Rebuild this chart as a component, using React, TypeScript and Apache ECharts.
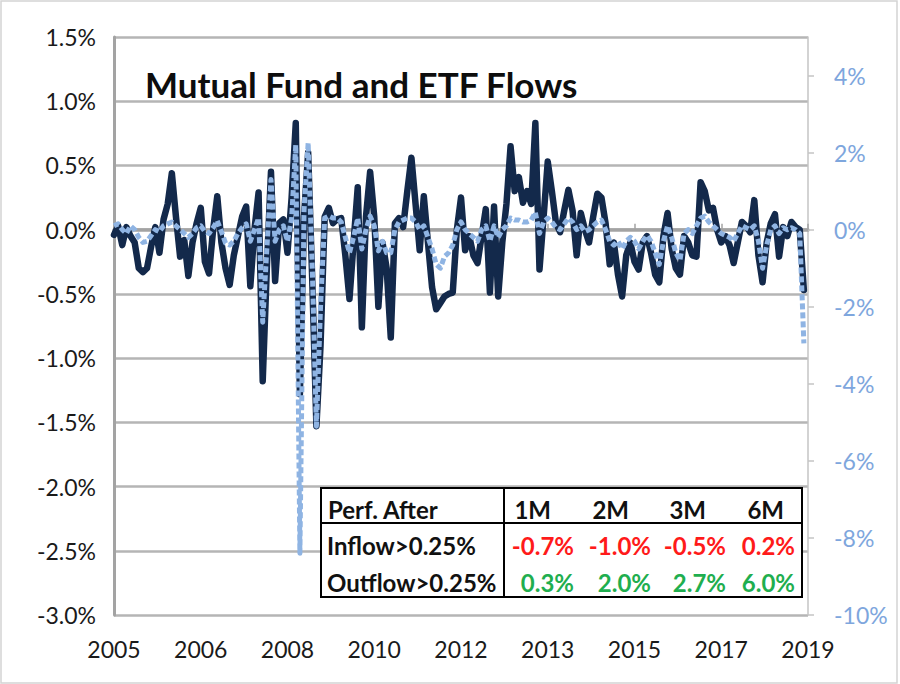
import React, { useEffect, useRef } from 'react';
import * as echarts from 'echarts';

// Monthly, Jan 2005 .. Dec 2018 (left axis, %)
const mfFlows = [
  -0.04, 0.03, -0.12, 0.02, -0.05, -0.1, -0.3, -0.33, -0.3, -0.13, 0.02, -0.18,
  0.08, 0.2, 0.44, 0.1, -0.21, -0.08, -0.36, -0.1, 0.05, 0.17, -0.25, -0.34,
  0.0, 0.26, -0.1, -0.3, -0.43, -0.2, -0.05, 0.1, 0.18, -0.44, 0.0, 0.29,
  -1.18, -0.3, 0.45, -0.4, 0.05, 0.08, -0.18, 0.25, 0.83, -1.28, 0.1, 0.6,
  -0.4, -1.53, -0.9, 0.1, 0.17, 0.05, 0.08, 0.09, -0.2, -0.54, -0.1, 0.33,
  -0.76, 0.1, 0.45, 0.1, -0.6, -0.1, -0.3, -0.84, 0.05, 0.09, 0.02, 0.3,
  0.56, 0.2, -0.16, 0.26, -0.1, -0.45, -0.62, -0.57, -0.52, -0.5, -0.49, 0.0,
  0.25, -0.16, -0.05, -0.2, -0.26, -0.05, 0.16, -0.49, 0.18, -0.52, -0.1, 0.2,
  0.65, 0.3, 0.41, 0.21, 0.3, 0.2, 0.83, -0.31, 0.1, 0.53, 0.3, 0.05,
  -0.02, 0.15, 0.31, 0.15, -0.2, 0.13, 0.0, -0.1, 0.1, 0.28, 0.25, 0.05,
  -0.27, -0.1, -0.35, -0.52, -0.2, -0.1, -0.25, -0.31, -0.1, -0.05, -0.18, -0.35,
  -0.41, -0.05, 0.13, -0.15, -0.3, -0.35, -0.05, -0.1, -0.2, -0.21, 0.37, 0.3,
  0.15, 0.17, 0.0, -0.1, -0.05, -0.12, -0.26, -0.1, 0.06, 0.03, -0.02, 0.23,
  -0.2, -0.41, -0.1, 0.05, 0.12, -0.21, 0.02, -0.05, 0.06, 0.02, 0.0, -0.47,
];

// Monthly, Jan 2005 .. Dec 2018 (right axis, %)
const etfFlows = [
  0.1, 0.15, 0.0, -0.1, 0.1, 0.0, -0.2, -0.33, -0.3, -0.15, 0.0, -0.05,
  0.1, 0.15, 0.2, 0.1, 0.0, -0.1, -0.2, -0.1, 0.05, 0.1, -0.05, -0.1,
  0.05, 0.23, -0.05, -0.35, -0.4, -0.3, -0.1, 0.05, 0.15, -0.3, 0.0, 0.3,
  -2.4, -0.5, 1.3, -0.3, 0.0, 0.1, -0.3, 0.3, 2.2, -8.4, 0.5, 2.25,
  -1.0, -5.1, -2.0, 0.3, 0.35, 0.3, 0.3, 0.2, -0.2, -0.6, -0.2, 0.3,
  -0.5, 0.0, 0.35, 0.1, -0.55, -0.3, -0.6, -0.6, 0.0, 0.2, 0.25, 0.3,
  0.3, 0.2, 0.0, 0.1, -0.2, -0.5, -0.9, -1.0, -0.7, -0.6, -0.4, 0.0,
  0.2, 0.0, -0.1, -0.2, -0.3, 0.0, 0.1, -0.3, 0.1, -0.2, 0.0, 0.1,
  0.3, 0.25, 0.25, 0.2, 0.2, 0.25, 0.45, -0.1, 0.2, 0.3, 0.2, 0.05,
  0.0, 0.15, 0.3, 0.2, 0.0, 0.1, -0.05, 0.0, 0.1, 0.2, 0.25, 0.0,
  -0.3, -0.4, -0.3, -0.5, -0.3, -0.2, -0.3, -0.5, -0.3, -0.15, -0.3, -0.6,
  -0.9, -0.3, 0.1, -0.2, -0.6, -0.8, -0.1, 0.0, -0.1, 0.1, 0.3, 0.35,
  0.2, 0.1, 0.0, -0.1, -0.15, -0.2, -0.3, -0.1, 0.1, 0.05, 0.0, 0.1,
  -0.3, -1.0, -0.4, 0.0, 0.1, -0.1, 0.05, 0.0, 0.05, 0.0, -0.1, -2.95,
];

const firstYear = 2005;
const lastYear = 2019;

const chartTitle = 'Mutual Fund and ETF Flows';
const tableHeader = 'Perf. After';
const tableCols = ['1M', '2M', '3M', '6M'];
const rowLabels = ['Inflow>0.25%', 'Outflow>0.25%'];
const inflowPerf = ['-0.7%', '-1.0%', '-0.5%', '0.2%'];
const outflowPerf = ['0.3%', '2.0%', '2.7%', '6.0%'];

const months: string[] = [];
for (let y = firstYear; y <= lastYear; y++) {
  for (let m = 1; m <= 12; m++) {
    if (y === lastYear && m > 1) break;
    months.push(`${y}-${m < 10 ? '0' + m : m}`);
  }
}

const FONT = 'Lato, "Open Sans", sans-serif';
const DARK = '#13294b';
const LIGHT = '#8fb4e3';
const RED = '#ff1a1a';
const GREEN = '#1fae4f';

export default function App() {
  const ref = useRef<HTMLDivElement>(null);
  useEffect(() => {
    if (!ref.current) return;
    const chart = echarts.init(ref.current, undefined, { renderer: 'svg' });

    // table layout
    const tX = 321, tY = 488, tW = 481, tH = 109;
    const divX = 504, divY = 523;
    const colRight = [551, 629, 706, 784];
    const valRight = [574, 651, 726, 795];
    const rowY = [509, 545, 582];
    const tableFont = `bold 24px ${FONT}`;
    const Z = 100;
    const tableChildren: any[] = [
      { type: 'rect', z: Z, shape: { x: tX, y: tY, width: tW, height: tH }, style: { fill: '#fff', stroke: '#000', lineWidth: 2 } },
      { type: 'line', z: Z + 1, shape: { x1: divX, y1: tY, x2: divX, y2: tY + tH }, style: { stroke: '#000', lineWidth: 2 } },
      { type: 'line', z: Z + 1, shape: { x1: tX, y1: divY, x2: tX + tW, y2: divY }, style: { stroke: '#000', lineWidth: 2 } },
      { type: 'text', z: Z + 1, style: { text: tableHeader, x: 328, y: rowY[0], font: tableFont, fill: '#111', align: 'left', verticalAlign: 'middle' } },
    ];
    tableCols.forEach((c, i) => {
      tableChildren.push({ type: 'text', z: Z + 1, style: { text: c, x: colRight[i], y: rowY[0], font: tableFont, fill: '#111', align: 'right', verticalAlign: 'middle' } });
    });
    rowLabels.forEach((r, j) => {
      tableChildren.push({ type: 'text', z: Z + 1, style: { text: r, x: 327, y: rowY[j + 1], font: tableFont, fill: '#111', align: 'left', verticalAlign: 'middle' } });
    });
    inflowPerf.forEach((v, i) => {
      tableChildren.push({ type: 'text', z: Z + 1, style: { text: v, x: valRight[i], y: rowY[1], font: tableFont, fill: RED, align: 'right', verticalAlign: 'middle' } });
    });
    outflowPerf.forEach((v, i) => {
      tableChildren.push({ type: 'text', z: Z + 1, style: { text: v, x: valRight[i], y: rowY[2], font: tableFont, fill: GREEN, align: 'right', verticalAlign: 'middle' } });
    });

    chart.setOption({
      animation: false,
      backgroundColor: '#fff',
      grid: { left: 114, right: 92, top: 37, bottom: 69, containLabel: false },
      xAxis: {
        type: 'category',
        data: months,
        boundaryGap: false,
        axisLine: { show: true, lineStyle: { color: '#a3a3a3', width: 3.5 } },
        axisTick: { show: true, inside: true, length: 6, interval: 20, lineStyle: { color: '#a3a3a3', width: 1.5 } },
        axisLabel: {
          interval: 20,
          margin: 22,
          color: '#1a1a1a',
          fontFamily: FONT,
          fontSize: 23,
          formatter: (v: string) => v.slice(0, 4),
        },
        splitLine: { show: false },
      },
      yAxis: [
        {
          type: 'value',
          min: -3,
          max: 1.5,
          interval: 0.5,
          axisLine: { show: true, lineStyle: { color: '#a3a3a3', width: 3 } },
          axisTick: { show: false },
          axisLabel: {
            margin: 18,
            color: '#1a1a1a',
            fontFamily: FONT,
            fontSize: 23,
            formatter: (v: number) => v.toFixed(1) + '%',
          },
          splitLine: { show: true, lineStyle: { color: '#b5b5b5', width: 2.5 } },
        },
        {
          type: 'value',
          position: 'right',
          min: -10,
          max: 5,
          interval: 2,
          axisLine: { show: true, lineStyle: { color: '#c4c4c4', width: 1.5 } },
          axisTick: { show: true, length: 6, lineStyle: { color: '#c4c4c4', width: 1.5 } },
          axisLabel: {
            margin: 26,
            color: '#7ea6dd',
            fontFamily: FONT,
            fontSize: 23,
            showMaxLabel: false,
            formatter: (v: number) => (v > 4.5 ? '' : v.toFixed(0) + '%'),
          },
          splitLine: { show: false },
        },
      ],
      series: [
        {
          name: 'Mutual Fund Flows',
          type: 'line',
          yAxisIndex: 0,
          data: mfFlows,
          symbol: 'none',
          lineStyle: { color: DARK, width: 6.5, cap: 'round', join: 'round' },
          z: 2,
        },
        {
          name: 'ETF Flows',
          type: 'line',
          yAxisIndex: 1,
          data: etfFlows,
          symbol: 'none',
          lineStyle: { color: LIGHT, width: 5, type: [6, 3], join: 'round' },
          z: 3,
        },
      ],
      graphic: [
        { type: 'rect', z: 0, silent: true, shape: { x: 1, y: 1, width: 896, height: 682 }, style: { fill: 'none', stroke: '#d4d4d4', lineWidth: 1.5 } },
        { type: 'text', z: Z, style: { text: chartTitle, x: 145, y: 84, font: `bold 35px ${FONT}`, fill: '#0d0d0d', align: 'left', verticalAlign: 'middle' } },
        { type: 'group', z: Z, children: tableChildren },
      ],
    });
    return () => chart.dispose();
  }, []);
  return <div ref={ref} style={{ position: 'fixed', left: 0, top: 0, width: 900, height: 684 }} />;
}
